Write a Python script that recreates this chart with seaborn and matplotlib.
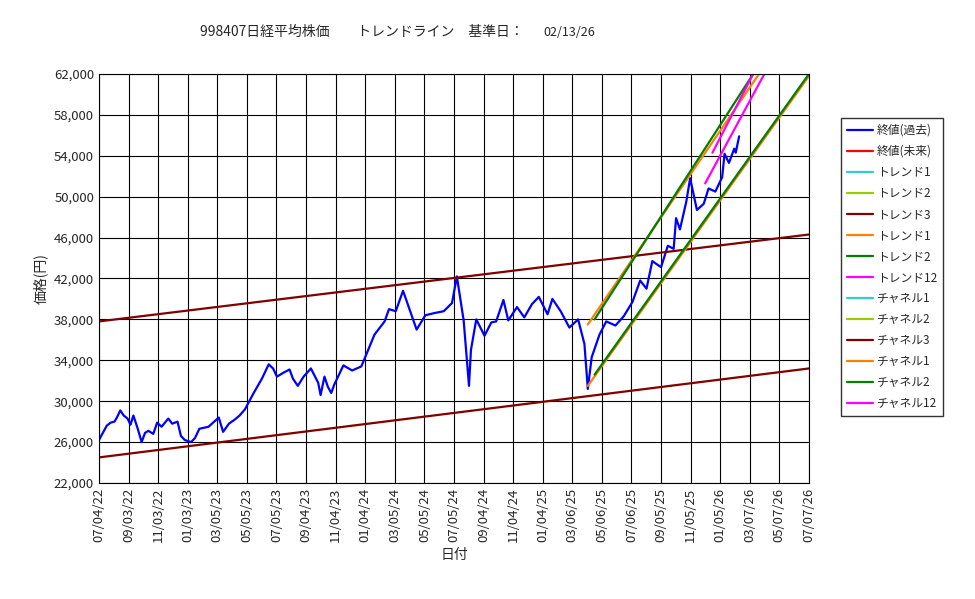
import numpy as np
import pandas as pd
import matplotlib
matplotlib.use("Agg")
import matplotlib.pyplot as plt
import matplotlib.dates as mdates
import seaborn as sns

sns.set_style("white")
plt.rcParams['font.family'] = ['Noto Sans CJK JP', 'DejaVu Sans']
plt.rcParams['axes.unicode_minus'] = False

# 終値(過去) 概算
price_dates = ["2022-07-04", "2022-07-12", "2022-07-20", "2022-07-28", "2022-08-05", "2022-08-10", "2022-08-17", "2022-08-24",
               "2022-09-01", "2022-09-07", "2022-09-13", "2022-09-22",
               "2022-09-30", "2022-10-07", "2022-10-14", "2022-10-24", "2022-11-01", "2022-11-10", "2022-11-24", "2022-12-02",
               "2022-12-13", "2022-12-20", "2022-12-28",
               "2023-01-10", "2023-01-18", "2023-01-27", "2023-02-15", "2023-03-08", "2023-03-17", "2023-03-29", "2023-04-10",
               "2023-04-20", "2023-05-01", "2023-05-19", "2023-06-05", "2023-06-19", "2023-06-28", "2023-07-06", "2023-07-20",
               "2023-08-01", "2023-08-08", "2023-08-18", "2023-08-30", "2023-09-14", "2023-09-29", "2023-10-04", "2023-10-12", "2023-10-19",
               "2023-10-26", "2023-11-01", "2023-11-20", "2023-12-08", "2023-12-27", "2024-01-10", "2024-01-23",
               "2024-02-13", "2024-02-22", "2024-03-07", "2024-03-22", "2024-04-05", "2024-04-19",
               "2024-05-07", "2024-05-24", "2024-06-14", "2024-07-01", "2024-07-11", "2024-07-25",
               "2024-08-05", "2024-08-09", "2024-08-20", "2024-09-06", "2024-09-20", "2024-09-30",
               "2024-10-15", "2024-10-25", "2024-11-12", "2024-11-27", "2024-12-13", "2024-12-27",
               "2025-01-14", "2025-01-24", "2025-02-10", "2025-02-28", "2025-03-18", "2025-03-31",
               "2025-04-07", "2025-04-15", "2025-05-01", "2025-05-15", "2025-06-03", "2025-06-20",
               "2025-07-08", "2025-07-24", "2025-08-06", "2025-08-18", "2025-09-05", "2025-09-19",
               "2025-10-01", "2025-10-06", "2025-10-14", "2025-10-27", "2025-11-04", "2025-11-18",
               "2025-12-02", "2025-12-12", "2025-12-26", "2026-01-09", "2026-01-14", "2026-01-23",
               "2026-02-03", "2026-02-06", "2026-02-13"]
price_vals = [26200, 26900, 27600, 27900, 28000, 28400, 29100, 28600,
              28300, 27700, 28600, 27300,
              26000, 26900, 27100, 26800, 27900, 27500, 28300, 27800,
              28000, 26600, 26200,
              26000, 26400, 27300, 27500, 28400, 27000, 27800, 28200,
              28600, 29200, 30800, 32200, 33600, 33200, 32400, 32800,
              33100, 32200, 31500, 32400, 33200, 31800, 30600, 32400, 31400,
              30800, 31600, 33500, 33000, 33400, 35000, 36500,
              37800, 39000, 38800, 40800, 38900, 37000,
              38400, 38600, 38800, 39600, 42200, 37900,
              31500, 35000, 38000, 36400, 37700, 37800,
              39900, 37900, 39200, 38200, 39500, 40200,
              38500, 40000, 38800, 37200, 38000, 35600,
              31200, 34300, 36500, 37800, 37400, 38300,
              39700, 41800, 41000, 43700, 43100, 45200,
              44900, 47900, 46800, 49500, 51800, 48700,
              49300, 50800, 50500, 51900, 54200, 53300,
              54700, 54300, 55900]

# トレンドライン (始点, 終点)
trend_lines = {
    "上値3": (["2022-07-04", "2026-07-07"], [37800, 46300], "#800000"),
    "下値3": (["2022-07-04", "2026-07-07"], [24500, 33200], "#800000"),
    "上値1": (["2025-04-07", "2026-03-26"], [37500, 62000], "#ff8000"),
    "下値1": (["2025-04-07", "2026-07-07"], [31500, 61800], "#ff8000"),
    "上値2": (["2025-04-21", "2026-03-14"], [38000, 62000], "#008000"),
    "下値2": (["2025-04-21", "2026-07-07"], [32600, 62000], "#008000"),
    "上値12": (["2025-12-20", "2026-03-14"], [54300, 62000], "#ff00ff"),
    "下値12": (["2025-12-05", "2026-04-06"], [51300, 62000], "#ff00ff"),
}

legend_items = [("終値(過去)", "#0000ff"), ("終値(未来)", "#ff0000"),
                ("トレンド1", "#33cccc"), ("トレンド2", "#99cc00"), ("トレンド3", "#800000"),
                ("トレンド1", "#ff8000"), ("トレンド2", "#008000"), ("トレンド12", "#ff00ff"),
                ("チャネル1", "#33cccc"), ("チャネル2", "#99cc00"), ("チャネル3", "#800000"),
                ("チャネル1", "#ff8000"), ("チャネル2", "#008000"), ("チャネル12", "#ff00ff")]

tick_labels = ["2022-07-04", "2022-09-03", "2022-11-03", "2023-01-03", "2023-03-05", "2023-05-05",
               "2023-07-05", "2023-09-04", "2023-11-04", "2024-01-04", "2024-03-05", "2024-05-05",
               "2024-07-05", "2024-09-04", "2024-11-04", "2025-01-04", "2025-03-06", "2025-05-06",
               "2025-07-06", "2025-09-05", "2025-11-05", "2026-01-05", "2026-03-07", "2026-05-07",
               "2026-07-07"]

fig = plt.figure(figsize=(9.75, 5.99), dpi=100)
ax = fig.add_axes([0.1015, 0.1937, 0.7282, 0.6828])

df = pd.DataFrame({"日付": pd.to_datetime(price_dates), "価格": price_vals})
sns.lineplot(data=df, x="日付", y="価格", ax=ax, color="#0000ff", lw=1.6)
for name, (d, v, c) in trend_lines.items():
    tdf = pd.DataFrame({"日付": pd.to_datetime(d), "価格": v})
    sns.lineplot(data=tdf, x="日付", y="価格", ax=ax, color=c, lw=1.6)

handles = [plt.Line2D([], [], color=c, lw=1.6) for _, c in legend_items]
fig.legend(handles, [l for l, _ in legend_items], loc="upper left",
           bbox_to_anchor=(0.863, 0.803), fontsize=8.5, frameon=True, fancybox=False,
           edgecolor="black", handlelength=2.2, handletextpad=0.3, labelspacing=0.68,
           borderpad=0.5, borderaxespad=0)

ax.set_xlim(pd.Timestamp("2022-07-04"), pd.Timestamp("2026-07-07"))
ax.set_ylim(22000, 62000)
ax.set_yticks(np.arange(22000, 62001, 4000))
ax.yaxis.set_major_formatter(matplotlib.ticker.FuncFormatter(lambda v, p: f"{int(v):,}"))
ax.set_xticks(pd.to_datetime(tick_labels))
ax.xaxis.set_major_formatter(mdates.DateFormatter("%m/%d/%y"))
plt.setp(ax.get_xticklabels(), rotation=90)
ax.tick_params(labelsize=9.5, length=0)
ax.grid(True, color="black", lw=0.8)
for s in ax.spines.values():
    s.set_color("black")
ax.set_xlabel("日付", fontsize=10)
ax.set_ylabel("価格(円)", fontsize=10)
fig.text(0.205, 0.94, "998407日経平均株価　　トレンドライン　基準日：", fontsize=10)
fig.text(0.557, 0.94, "02/13/26", fontsize=9)

fig.savefig("out.png", dpi=100)
